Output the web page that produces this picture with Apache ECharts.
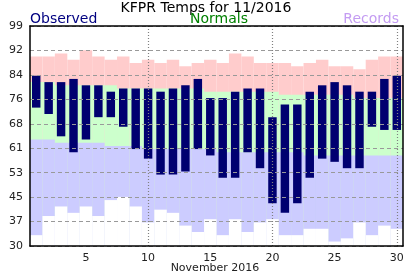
<!DOCTYPE html>
<html>
<head>
<meta charset="utf-8">
<script src="https://cdn.jsdelivr.net/npm/echarts@6/dist/echarts.min.js"></script>
<style>
  html, body { margin: 0; padding: 0; background: #fff; }
  #chart { width: 412px; height: 276px; }
</style>
</head>
<body>
<div id="chart"></div>
<script>
// ---- data (deg F) ----
const days = ['1','2','3','4','5','6','7','8','9','10','11','12','13','14','15',
  '16','17','18','19','20','21','22','23','24','25','26','27','28','29','30'];
const obsHigh  = [83,81,81,82,80,80,78,79,79,79,78,79,80,82,76,76,78,79,79,70,74,74,78,80,81,80,78,78,82,83];
const obsLow   = [73,71,64,59,63,70,70,67,60,57,52,52,53,60,58,51,51,59,54,43,40,43,51,57,56,54,54,67,66,66];
const normHigh = [81,81,80,80,80,80,80,79,79,79,79,79,79,79,78,78,78,78,78,78,77,77,77,77,77,77,76,76,76,76];
const normLow  = [63,63,62,62,62,62,61,61,61,60,60,60,60,60,60,59,59,59,59,59,59,59,58,58,58,58,58,58,58,58];
const recHigh  = [89,89,90,88,91,89,88,89,87,88,87,88,86,87,88,87,90,89,87,87,87,86,87,88,86,86,85,88,89,89];
const recLow   = [33,39,42,40,42,39,44,45,42,37,41,40,36,34,38,33,38,34,37,38,33,33,35,35,31,32,37,33,36,35];
const yLabels  = ['30','37','45','53','61','68','76','84','92','99'];
const markDays = ['10','20','30'];

// ---- axis range ----
const yMin = 29.6, yMax = 98.6;
const yStep = (yMax - yMin) / 9;
const FONT = 'DejaVu Sans';

const chart = echarts.init(document.getElementById('chart'));

const bgBar = (data, color) => ({
  type: 'bar', xAxisIndex: 1, data: data, barGap: '-100%', barCategoryGap: '0%',
  itemStyle: { color: color }, silent: true,
});

chart.setOption({
  animation: false,
  backgroundColor: '#fff',
  grid: { left: 30, right: 9, top: 26, bottom: 30 },
  xAxis: [
    {
      type: 'category', data: days, position: 'bottom', z: 6,
      axisLine: { lineStyle: { color: '#000', width: 1.5 } },
      axisTick: { alignWithLabel: true, interval: 0, length: 4, lineStyle: { color: '#000' } },
      axisLabel: { interval: (i) => (i + 1) % 5 === 0, color: '#222', fontSize: 11, margin: 7, fontFamily: FONT },
      splitLine: { show: false },
    },
    {
      type: 'category', data: days, position: 'top', z: 6,
      axisLine: { lineStyle: { color: '#000', width: 1.5 } },
      axisTick: { show: false }, axisLabel: { show: false }, splitLine: { show: false },
    },
    {
      // longer ticks every 5 days
      type: 'category', data: days, position: 'bottom', z: 6,
      axisLine: { show: false },
      axisTick: { alignWithLabel: true, interval: (i) => (i + 1) % 5 === 0, length: 6, lineStyle: { color: '#000' } },
      axisLabel: { show: false }, splitLine: { show: false },
    },
  ],
  yAxis: [
    {
      type: 'value', min: yMin, max: yMax, interval: yStep, z: 5,
      axisLine: { show: true, lineStyle: { color: '#000', width: 1.5 } },
      axisTick: { show: false },
      axisLabel: {
        formatter: (v) => yLabels[Math.round((v - yMin) / yStep)],
        color: '#222', fontSize: 11, margin: 7, fontFamily: FONT,
      },
      splitLine: { show: true, lineStyle: { color: '#999', type: [4, 3], width: 1 } },
    },
    {
      type: 'value', min: yMin, max: yMax, position: 'right', z: 6,
      axisLine: { show: true, lineStyle: { color: '#000', width: 1.5 } },
      axisTick: { show: false }, axisLabel: { show: false }, splitLine: { show: false },
    },
  ],
  graphic: [
    { type: 'text', x: 206, y: 8, style: { text: 'KFPR Temps for 11/2016', fill: '#000', font: '14px ' + FONT, textAlign: 'center', textVerticalAlign: 'middle' } },
    { type: 'text', x: 30, y: 19, style: { text: 'Observed', fill: '#000080', font: '14px ' + FONT, textAlign: 'left', textVerticalAlign: 'middle' } },
    { type: 'text', x: 219, y: 19, style: { text: 'Normals', fill: '#008000', font: '14px ' + FONT, textAlign: 'center', textVerticalAlign: 'middle' } },
    { type: 'text', x: 399, y: 19, style: { text: 'Records', fill: '#c49cf2', font: '14px ' + FONT, textAlign: 'right', textVerticalAlign: 'middle' } },
    { type: 'text', x: 215, y: 268, style: { text: 'November 2016', fill: '#222', font: '11px ' + FONT, textAlign: 'center', textVerticalAlign: 'middle' } },
  ],
  series: [
    bgBar(recHigh, '#ffcccc'),
    bgBar(normHigh, '#ccffcc'),
    bgBar(normLow, '#ccccff'),
    bgBar(recLow, '#ffffff'),
    {
      type: 'bar', xAxisIndex: 0, stack: 'obs', data: obsLow, barWidth: '68%',
      itemStyle: { color: 'transparent' }, silent: true,
    },
    {
      type: 'bar', xAxisIndex: 0, stack: 'obs', barWidth: '68%',
      data: obsHigh.map((h, i) => h - obsLow[i]),
      itemStyle: { color: '#000070' }, silent: true,
      markLine: {
        symbol: 'none', silent: true, label: { show: false },
        lineStyle: { color: '#808080', type: [1, 2], width: 1.2 },
        data: markDays.map((d) => ({ xAxis: d })),
      },
    },
  ],
});
</script>
</body>
</html>
